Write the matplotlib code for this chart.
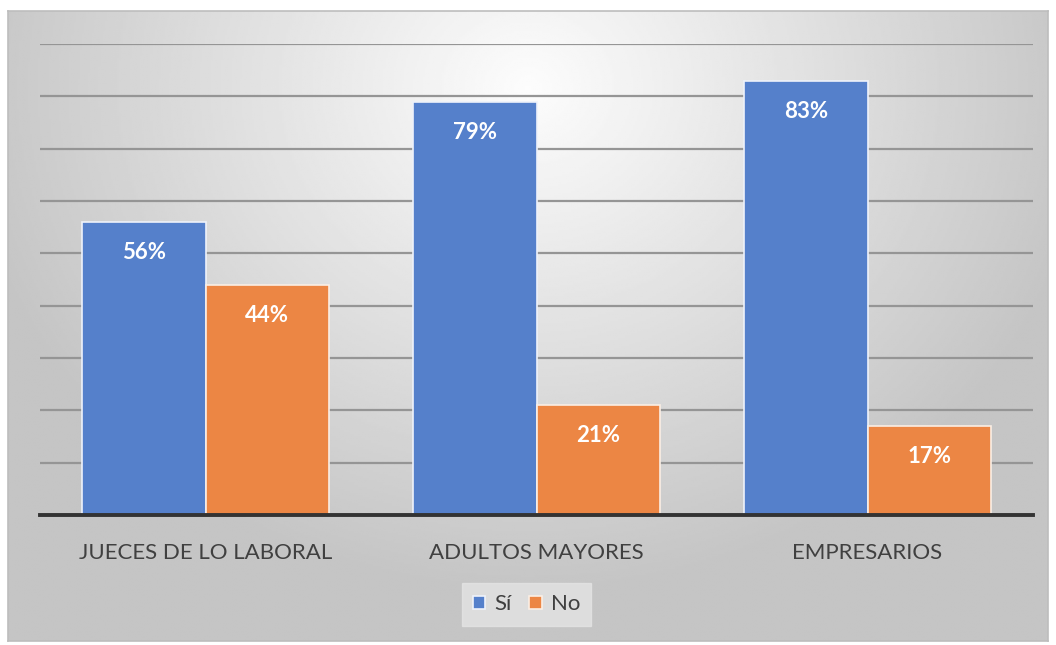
import numpy as np
import matplotlib.pyplot as plt

categories = ['JUECES DE LO LABORAL', 'ADULTOS MAYORES', 'EMPRESARIOS']
si = [0.56, 0.79, 0.83]
no = [0.44, 0.21, 0.17]
series_names = ['Sí', 'No']

plt.rcParams['font.family'] = ['Lato', 'DejaVu Sans']

fig = plt.figure(figsize=(10.56, 6.45), dpi=100)

# fondo con degradado radial (marco del gráfico)
bg = fig.add_axes([8 / 1056, 1 - 641 / 645, 1040 / 1056, 630 / 645])
yy, xx = np.mgrid[0:1:300j, 0:1:500j]
r = np.sqrt(((xx - 0.5) / 0.75) ** 2 + ((yy - 0.12) / 1.1) ** 2)
shade = np.clip(0.99 - 0.30 * r, 0.77, 1.0)
bg.imshow(shade, cmap='gray', vmin=0, vmax=1, aspect='auto', extent=[0, 1, 1, 0])
bg.set_xticks([])
bg.set_yticks([])
for s in bg.spines.values():
    s.set_color('#bdbdbd')
    s.set_linewidth(1.2)

ax = fig.add_axes([40 / 1056, 1 - 515 / 645, 993 / 1056, 471 / 645])
ax.patch.set_alpha(0)

x = np.arange(len(categories))
w = 0.372
b1 = ax.bar(x - w / 2, si, w, color='#5580CB', edgecolor='#eef2fa', linewidth=1.2,
            label=series_names[0], zorder=3)
b2 = ax.bar(x + w / 2, no, w, color='#EC8644', edgecolor='#fbeee4', linewidth=1.2,
            label=series_names[1], zorder=3)

for bars, vals in [(b1, si), (b2, no)]:
    for bar, v in zip(bars, vals):
        ax.annotate(f'{v:.0%}', (bar.get_x() + bar.get_width() / 2, v),
                    xytext=(0, -22), textcoords='offset points', ha='center', va='center',
                    color='white', fontsize=16, fontweight='bold', zorder=4)

ax.set_xlim(-0.5, 2.5)
ax.set_ylim(0, 0.9)
ax.set_yticks(np.arange(0.1, 0.91, 0.1))
ax.yaxis.grid(True, color='#959595', linewidth=1.6, zorder=0)
ax.tick_params(axis='y', left=False, labelleft=False)
ax.tick_params(axis='x', bottom=False, labelsize=16, labelcolor='#404040', pad=17)
ax.set_xticks(x)
ax.set_xticklabels(categories)
for s in ['top', 'right', 'left']:
    ax.spines[s].set_visible(False)
ax.spines['bottom'].set_color('#333333')
ax.spines['bottom'].set_linewidth(2.8)
ax.spines['bottom'].set_zorder(5)

leg = ax.legend(loc='center', bbox_to_anchor=(0.49, -0.19), ncol=2, frameon=True,
                fontsize=16, handlelength=0.55, handleheight=0.55, handletextpad=0.4,
                columnspacing=0.8, borderpad=0.5, fancybox=False)
leg.get_frame().set_facecolor('#e4e4e4')
leg.get_frame().set_edgecolor('#e4e4e4')
for t in leg.get_texts():
    t.set_color('#404040')

fig.savefig('out.png', dpi=100)
